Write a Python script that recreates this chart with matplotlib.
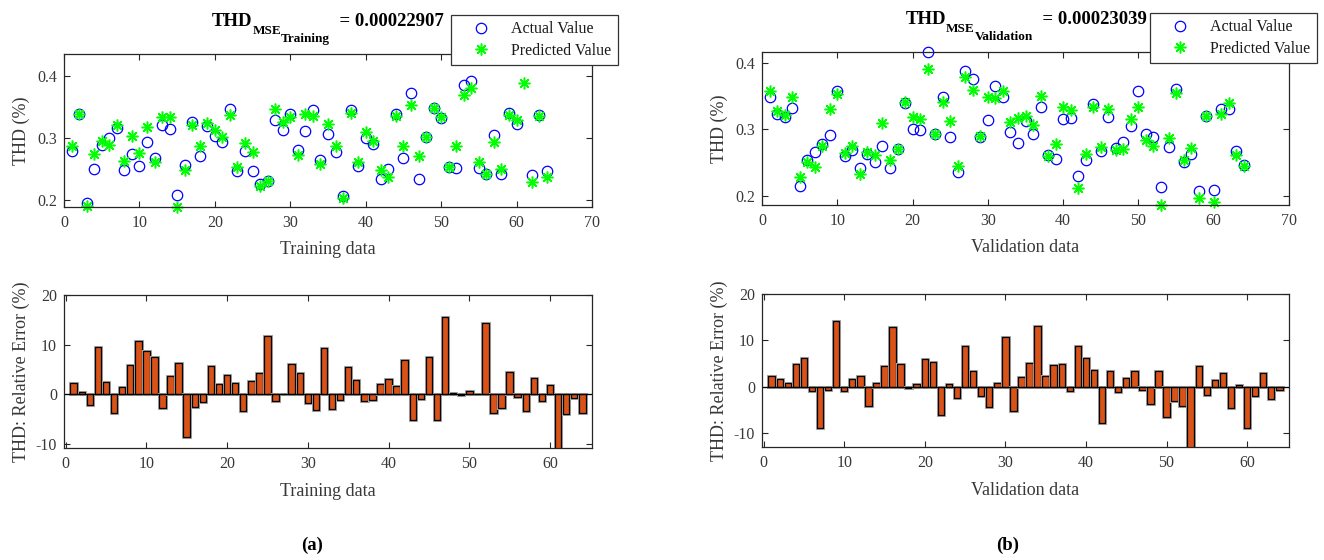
import matplotlib
matplotlib.use('Agg')
import matplotlib.pyplot as plt
import matplotlib.patheffects as pe
import numpy as np

plt.rcParams['font.family'] = ['Liberation Serif', 'DejaVu Serif']
plt.rcParams['axes.unicode_minus'] = False

# THD (%) per sample: measured vs. network output
train_actual = [0.2796, 0.3387, 0.195, 0.250, 0.288, 0.2995, 0.3156, 0.248, 0.2737, 0.254,
                0.294, 0.267, 0.321, 0.314, 0.2075, 0.256, 0.326, 0.2704, 0.3188, 0.3027,
                0.294, 0.347, 0.246, 0.2796, 0.247, 0.2258, 0.2306, 0.328, 0.3134, 0.339,
                0.281, 0.311, 0.3446, 0.264, 0.306, 0.2774, 0.206, 0.3446, 0.254, 0.2995,
                0.2898, 0.2333, 0.2495, 0.338, 0.267, 0.3726, 0.234, 0.301, 0.3478, 0.3317,
                0.2527, 0.2516, 0.3844, 0.3909, 0.251, 0.2425, 0.3048, 0.2414, 0.340, 0.3226,
                0.435, 0.2403, 0.3371, 0.2462]
train_pred = [0.2866, 0.339, 0.190, 0.2737, 0.2957, 0.288, 0.321, 0.262, 0.3027, 0.275,
              0.3167, 0.2608, 0.333, 0.334, 0.1887, 0.249, 0.3215, 0.2866, 0.3247, 0.3134,
              0.301, 0.336, 0.253, 0.292, 0.277, 0.223, 0.2306, 0.347, 0.326, 0.333,
              0.2726, 0.339, 0.335, 0.2586, 0.322, 0.2866, 0.2027, 0.340, 0.2608, 0.309,
              0.2946, 0.249, 0.2366, 0.335, 0.2876, 0.3532, 0.2704, 0.301, 0.3478, 0.333,
              0.2532, 0.2876, 0.3694, 0.380, 0.2618, 0.2425, 0.294, 0.250, 0.336, 0.3285,
              0.3876, 0.2296, 0.335, 0.2366]
val_actual = [0.3486, 0.3226, 0.319, 0.3316, 0.2153, 0.2534, 0.266, 0.277, 0.2905, 0.3576,
              0.2604, 0.269, 0.2424, 0.263, 0.250, 0.2744, 0.2414, 0.270, 0.339, 0.3005,
              0.299, 0.4158, 0.2925, 0.348, 0.2875, 0.2363, 0.3867, 0.3752, 0.2885, 0.3135,
              0.3642, 0.349, 0.296, 0.2794, 0.312, 0.292, 0.334, 0.2614, 0.2554, 0.315,
              0.3165, 0.2293, 0.2539, 0.3376, 0.2674, 0.319, 0.271, 0.2805, 0.305, 0.3576,
              0.2925, 0.288, 0.2138, 0.2734, 0.360, 0.250, 0.263, 0.2078, 0.3195, 0.2093,
              0.330, 0.330, 0.267, 0.2464]
val_pred = [0.3576, 0.3276, 0.321, 0.3476, 0.2288, 0.251, 0.2434, 0.275, 0.331, 0.353,
            0.264, 0.275, 0.2328, 0.266, 0.261, 0.310, 0.2534, 0.270, 0.3406, 0.318,
            0.3155, 0.3907, 0.2925, 0.341, 0.3125, 0.2454, 0.379, 0.359, 0.289, 0.3486,
            0.3466, 0.3576, 0.3115, 0.3165, 0.3195, 0.306, 0.350, 0.259, 0.278, 0.334,
            0.3286, 0.2113, 0.263, 0.334, 0.273, 0.330, 0.269, 0.2704, 0.315, 0.334,
            0.284, 0.2754, 0.1862, 0.286, 0.354, 0.2539, 0.272, 0.1972, 0.3205, 0.1912,
            0.323, 0.340, 0.261, 0.2454]

# relative error (%) per sample
train_err = [2.2, 0.4, -2.3, 9.5, 2.4, -3.9, 1.5, 5.9, 10.8, 8.6,
             7.5, -2.8, 3.7, 6.3, -8.7, -2.6, -1.6, 5.7, 2.0, 3.8,
             2.2, -3.4, 2.6, 4.3, 11.8, -1.4, 0.0, 6.0, 4.3, -1.8,
             -3.2, 9.2, -3.0, -1.3, 5.4, 2.9, -1.4, -1.2, 2.1, 3.1,
             1.6, 6.9, -5.3, -1.0, 7.5, -5.3, 15.5, 0.3, -0.2, 0.6,
             0.1, 14.3, -3.9, -2.9, 4.4, -0.5, -3.5, 3.3, -1.4, 1.8,
             -11.2, -4.1, -0.9, -3.9]
val_err = [2.4, 1.6, 0.9, 4.9, 6.3, -0.9, -9.0, -0.7, 14.1, -1.0,
           1.6, 2.3, -4.1, 0.8, 4.4, 12.9, 4.8, -0.3, 0.6, 5.9,
           5.4, -6.0, 0.5, -2.4, 8.7, 3.5, -1.9, -4.4, 0.7, 10.8,
           -5.2, 2.2, 5.2, 13.1, 2.4, 4.7, 4.8, -0.9, 8.7, 6.1,
           3.7, -7.9, 3.5, -1.1, 1.9, 3.5, -0.7, -3.8, 3.3, -6.5,
           -3.0, -4.2, -13.5, 4.5, -1.8, 1.4, 3.0, -4.6, 0.3, -8.9,
           -1.9, 3.0, -2.6, -0.8]

mse_train = '0.00022907'
mse_val = '0.00023039'

DARK = '#262626'
TXT = '#383838'


def style(ax):
    for s in ax.spines.values():
        s.set_color(DARK)
        s.set_linewidth(0.9)
    ax.tick_params(direction='in', length=4, width=0.8, colors=DARK,
                   labelcolor=TXT, labelsize=11.5, top=True, right=True)
    ax.tick_params(axis='x', pad=5.5)
    ax.tick_params(axis='y', pad=5)


def scatter_panel(ax, actual, pred, xlabel):
    n = np.arange(1, len(actual) + 1)
    ax.plot(n, actual, 'o', mfc='none', mec='#0000FF', ms=7.5, mew=0.9,
            label='Actual Value', clip_on=False)
    ax.plot(n, pred, marker=(8, 2, 0), ls='none', color='#00FF00', mec='#00FF00',
            ms=8.5, mew=1.1, label='Predicted Value', clip_on=False)
    ax.set_xlim(0, 70)
    ax.set_ylim(min(min(actual), min(pred)), max(max(actual), max(pred)))
    ax.set_xticks(range(0, 71, 10))
    ax.set_yticks([0.2, 0.3, 0.4])
    ax.set_yticklabels(['0.2', '0.3', '0.4'])
    ax.set_xlabel(xlabel, fontsize=13, color=TXT)
    ax.set_ylabel('THD (%)', fontsize=13, color=TXT)
    ax.xaxis.set_label_coords(0.5, -0.22)
    ax.yaxis.set_label_coords(-0.065, 0.5)
    style(ax)


def error_panel(ax, err, xlabel, ylo):
    n = np.arange(1, len(err) + 1)
    bars = ax.bar(n, err, width=0.8, color='#D95319', edgecolor='black', linewidth=0.9)
    for b in bars:
        b.set_path_effects([pe.Stroke(linewidth=2.2, foreground='#a8a8a8'), pe.Normal()])
    ax.axhline(0, color='black', lw=0.9)
    ax.set_xlim(-0.2, 65.2)
    ax.set_ylim(ylo, 20)
    ax.set_xticks(range(0, 61, 10))
    ax.set_yticks([-10, 0, 10, 20])
    ax.set_xlabel(xlabel, fontsize=13, color=TXT)
    ax.set_ylabel('THD: Relative Error (%)', fontsize=13, color=TXT)
    ax.xaxis.set_label_coords(0.5, -0.23)
    ax.yaxis.set_label_coords(-0.065, 0.5)
    style(ax)


fig = plt.figure(figsize=(13.24, 5.6), dpi=100)
W, H = 1324.0, 560.0


def add_axes(x0, y0, x1, y1):
    return fig.add_axes([x0 / W, 1 - y1 / H, (x1 - x0) / W, (y1 - y0) / H])


ax_tl = add_axes(64, 54, 592, 207)
ax_tr = add_axes(762, 52, 1289, 205)
ax_bl = add_axes(64, 295, 592, 448)
ax_br = add_axes(762, 294, 1289, 447)

scatter_panel(ax_tl, train_actual, train_pred, 'Training data')
scatter_panel(ax_tr, val_actual, val_pred, 'Validation data')
error_panel(ax_bl, train_err, 'Training data', -10.9)
error_panel(ax_br, val_err, 'Validation data', -13.0)

leg_kw = dict(fontsize=11.5, frameon=True, fancybox=False, borderpad=0.4,
              handlelength=3.0, handletextpad=0.4, labelspacing=0.35,
              edgecolor='#333333', framealpha=1.0, borderaxespad=0)
for ax, corner in ((ax_tl, (618, 15)), (ax_tr, (1317, 13))):
    leg = ax.legend(loc='upper right', bbox_to_anchor=(corner[0] / W, 1 - corner[1] / H),
                    bbox_transform=fig.transFigure, **leg_kw)
    leg.get_frame().set_linewidth(0.9)
    leg.set_zorder(10)
    for t in leg.get_texts():
        t.set_color('#1a1a1a')

renderer = fig.canvas.get_renderer()


def title_chain(xc, ybase, sub, value):
    # THD with a two-level subscript, both subscript levels at the same size
    pieces = [('THD', 13.5, 0), ('MSE', 9.5, -8), (sub, 9.5, -16),
              ('  = ' + value, 13.5, 0)]
    texts = []
    x = 0.0
    for s, size, dy in pieces:
        t = fig.text(x / W, 1 - (ybase - dy) / H, s, fontsize=size,
                     fontweight='bold', va='baseline', ha='left')
        bb = t.get_window_extent(renderer)
        texts.append((t, x))
        x = bb.x1
    shift = xc - x / 2
    for t, x0 in texts:
        t.set_x((x0 + shift) / W)


title_chain(328, 26, 'Training', mse_train)
title_chain(1026, 24, 'Validation', mse_val)

fig.text(312 / W, 1 - 545 / H, '(a)', ha='center', va='center', fontsize=13.5,
         fontweight='bold')
fig.text(1008 / W, 1 - 545 / H, '(b)', ha='center', va='center', fontsize=13.5,
         fontweight='bold')

fig.savefig('out.png', dpi=100)
